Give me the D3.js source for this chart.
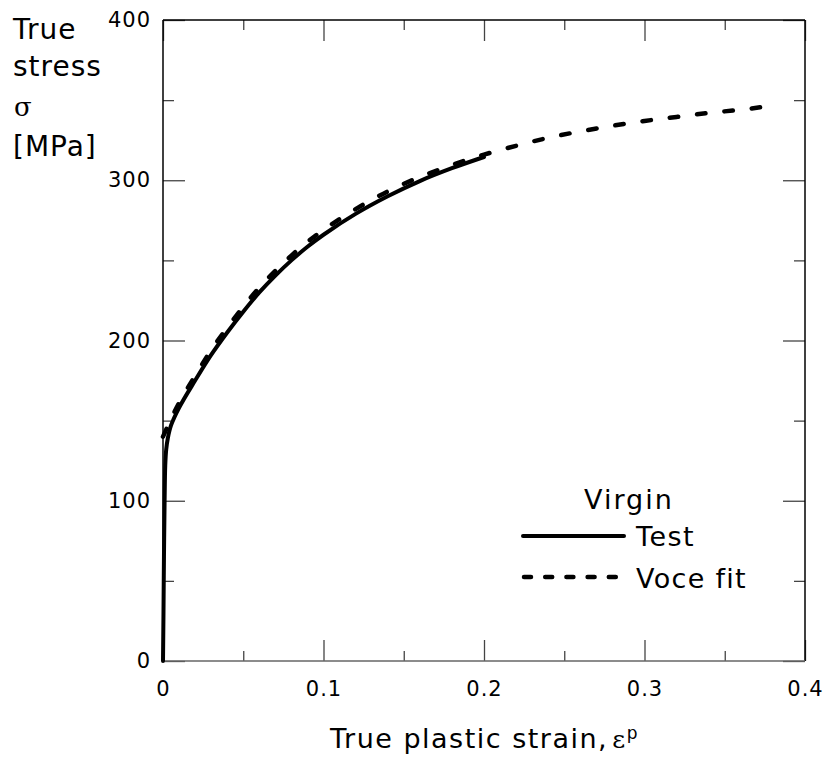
<!DOCTYPE html>
<html lang="en">
  <head>
    <meta charset="UTF-8" />
    <title>True stress - true plastic strain</title>
    <style>
      body { margin: 0; background: #fff; }
      svg text { font-family: "DejaVu Sans", Verdana, sans-serif; fill: #000; }
    </style>
  </head>
  <body>
    <div class="chart"></div>
    <script src="https://d3js.org/d3.v7.min.js"></script>
    <script>
      // 曲線資料
      const testStrain = [0, 0.0003, 0.0006, 0.001, 0.0014, 0.002, 0.003, 0.005, 0.01, 0.02, 0.03,
                          0.04, 0.05, 0.06, 0.07, 0.08, 0.09, 0.10, 0.12, 0.14, 0.16, 0.18, 0.20];
      const testStress = [0, 30, 65, 100, 122, 132, 139, 147, 158, 175, 191,
                          205, 218, 230, 240.5, 250, 258.5, 266, 279, 290, 299.5, 307.5, 314.5];

      const voceStrain = [0, 0.005, 0.01, 0.02, 0.03, 0.04, 0.05, 0.06, 0.07, 0.08, 0.09, 0.10,
                          0.12, 0.14, 0.16, 0.18, 0.20, 0.22, 0.24, 0.26, 0.28, 0.30,
                          0.32, 0.34, 0.36, 0.372];
      const voceStress = [140, 151, 161, 178, 194, 208, 221, 233, 243.5, 253, 261.5, 269,
                          282, 293, 302, 309.5, 316, 321.5, 326.5, 330.5, 334, 337,
                          339.5, 342, 344, 345.5];

      const xMajor = [0, 0.1, 0.2, 0.3, 0.4];
      const xMinor = [0.05, 0.15, 0.25, 0.35];
      const yMajor = [0, 100, 200, 300, 400];
      const yMinor = [50, 150, 250, 350];

      const xLabels = ['0', '0.1', '0.2', '0.3', '0.4'];

      // 建立SVG
      const svgWidth = 828, svgHeight = 763;
      const plotLeft = 163, plotRight = 805, plotTop = 20, plotBottom = 661;

      const svg = d3.select('.chart')
                    .append('svg')
                    .attr('width', svgWidth)
                    .attr('height', svgHeight);

      const xScale = d3.scaleLinear().domain([0, 0.4]).range([plotLeft, plotRight]);
      const yScale = d3.scaleLinear().domain([0, 400]).range([plotBottom, plotTop]);

      // 刻度（向內）
      const tickColor = '#444';
      function drawAxis(gen, transform, labels) {
        const g = svg.append('g')
                     .attr('transform', transform)
                     .call(gen);
        g.select('.domain').remove();
        g.selectAll('line').attr('stroke', tickColor).attr('stroke-width', 1.3);
        if (labels) {
          g.selectAll('text')
            .style('font-size', '21px')
            .style('letter-spacing', '1px')
            .attr('fill', '#000');
        } else {
          g.selectAll('text').remove();
        }
        return g;
      }

      drawAxis(d3.axisLeft(yScale).tickValues(yMajor).tickSize(-22).tickPadding(12),
               `translate(${plotLeft},0)`, true);
      drawAxis(d3.axisLeft(yScale).tickValues(yMinor).tickSize(-11),
               `translate(${plotLeft},0)`, false);
      drawAxis(d3.axisRight(yScale).tickValues(yMajor).tickSize(-22),
               `translate(${plotRight},0)`, false);
      drawAxis(d3.axisRight(yScale).tickValues(yMinor).tickSize(-11),
               `translate(${plotRight},0)`, false);
      drawAxis(d3.axisBottom(xScale).tickValues(xMajor).tickSize(-21).tickPadding(20)
                 .tickFormat((d, i) => xLabels[i]),
               `translate(0,${plotBottom})`, true);
      drawAxis(d3.axisBottom(xScale).tickValues(xMinor).tickSize(-10),
               `translate(0,${plotBottom})`, false);
      drawAxis(d3.axisTop(xScale).tickValues(xMajor).tickSize(-21),
               `translate(0,${plotTop})`, false);
      drawAxis(d3.axisTop(xScale).tickValues(xMinor).tickSize(-10),
               `translate(0,${plotTop})`, false);

      // 外框
      svg.append('line').attr('x1', plotLeft).attr('x2', plotRight).attr('y1', plotTop).attr('y2', plotTop)
         .attr('stroke', '#000').attr('stroke-width', 1.5);
      svg.append('line').attr('x1', plotRight).attr('x2', plotRight).attr('y1', plotTop).attr('y2', plotBottom)
         .attr('stroke', '#000').attr('stroke-width', 1.5);
      svg.append('line').attr('x1', plotLeft).attr('x2', plotLeft).attr('y1', plotTop).attr('y2', plotBottom)
         .attr('stroke', '#000').attr('stroke-width', 1.5);
      svg.append('line').attr('x1', plotLeft).attr('x2', plotRight).attr('y1', plotBottom).attr('y2', plotBottom)
         .attr('stroke', '#666').attr('stroke-width', 1.5);

      // 曲線
      const line = d3.line()
                     .x(d => xScale(d[0]))
                     .y(d => yScale(d[1]))
                     .curve(d3.curveCatmullRom.alpha(0.5));

      svg.append('path')
         .datum(d3.zip(testStrain, testStress))
         .attr('d', line)
         .attr('fill', 'none')
         .attr('stroke', '#000')
         .attr('stroke-width', 4)
         .attr('stroke-linecap', 'round');

      const vocePath = svg.append('path')
         .datum(d3.zip(voceStrain, voceStress))
         .attr('d', line)
         .attr('fill', 'none')
         .attr('stroke', '#000')
         .attr('stroke-width', 4.5)
         .attr('stroke-linecap', 'round');

      // 讓虛線頭尾都是線段
      const dashLen = 8.5;
      const pathLen = vocePath.node().getTotalLength();
      const nDash = Math.round((pathLen - dashLen) / 28);
      const period = (pathLen - dashLen) / nDash;
      vocePath.attr('stroke-dasharray', `${dashLen},${period - dashLen}`);

      // 圖例
      const legendFont = '27px';
      svg.append('text')
         .attr('x', 629).attr('y', 509)
         .attr('text-anchor', 'middle')
         .style('font-size', legendFont)
         .style('letter-spacing', '2px')
         .text('Virgin');
      svg.append('line')
         .attr('x1', 523).attr('x2', 624).attr('y1', 536).attr('y2', 536)
         .attr('stroke', '#000').attr('stroke-width', 4).attr('stroke-linecap', 'round');
      svg.append('text')
         .attr('x', 636).attr('y', 546)
         .style('font-size', legendFont)
         .style('letter-spacing', '1.5px')
         .text('Test');
      svg.append('line')
         .attr('x1', 524).attr('x2', 618).attr('y1', 577).attr('y2', 577)
         .attr('stroke', '#000').attr('stroke-width', 4.5).attr('stroke-linecap', 'round')
         .attr('stroke-dasharray', '7,14.2');
      svg.append('text')
         .attr('x', 636).attr('y', 588)
         .style('font-size', legendFont)
         .style('letter-spacing', '1.3px')
         .text('Voce fit');

      // 軸標題
      const yTitle = svg.append('text').attr('x', 13)
                        .style('font-size', '28px').style('letter-spacing', '1px');
      yTitle.append('tspan').attr('x', 13).attr('y', 39).text('True');
      yTitle.append('tspan').attr('x', 13).attr('y', 76).text('stress');
      yTitle.append('tspan').attr('x', 14).attr('y', 116)
            .style('font-family', '"DejaVu Serif", serif').style('font-size', '26px').text('σ');
      yTitle.append('tspan').attr('x', 13).attr('y', 156).text('[MPa]');

      const xTitle = svg.append('text').attr('x', 330).attr('y', 748)
                        .style('font-size', '27px').style('letter-spacing', '1.5px');
      xTitle.append('tspan').text('True plastic strain,');
      xTitle.append('tspan')
            .attr('dx', 4)
            .style('font-family', '"DejaVu Serif", serif').style('font-size', '25px').text('ε');
      xTitle.append('tspan')
            .attr('dy', -9)
            .style('font-size', '17px').text('p');
    </script>
  </body>
</html>
